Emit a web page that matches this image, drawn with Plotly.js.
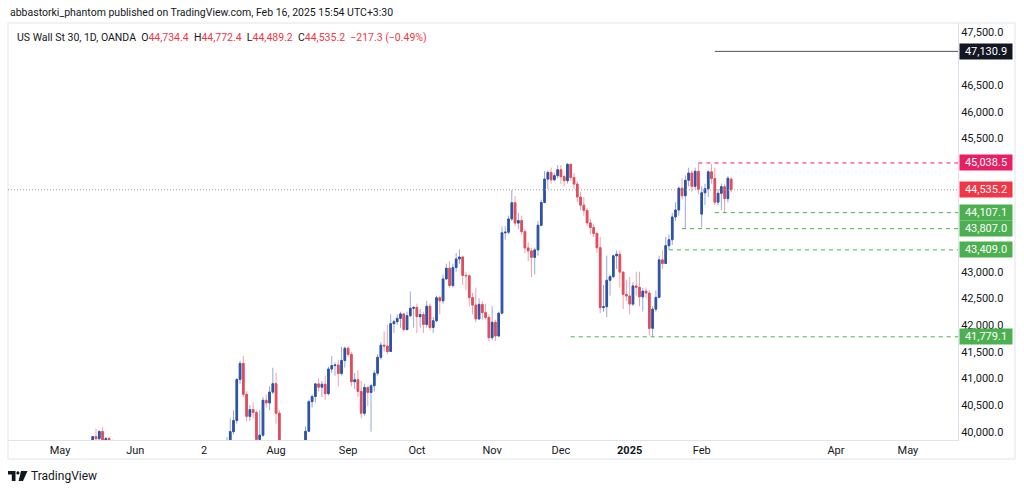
<!DOCTYPE html>
<html>
<head>
<meta charset="utf-8">
<script src="https://cdn.plot.ly/plotly-3.0.1.min.js"></script>
<style>
html,body{margin:0;padding:0;background:#ffffff;}
#chart{width:1024px;height:490px;}
</style>
</head>
<body>
<div id="chart"></div>
<script>
// ---------------- DATA (US Wall St 30, 1D, OANDA) ----------------
const dates = [
  // May 2024
  '2024-05-01','2024-05-02','2024-05-03','2024-05-06','2024-05-07','2024-05-08','2024-05-09','2024-05-10',
  '2024-05-13','2024-05-14','2024-05-15','2024-05-16','2024-05-17','2024-05-20','2024-05-21','2024-05-22',
  '2024-05-23','2024-05-24','2024-05-27','2024-05-28','2024-05-29','2024-05-30','2024-05-31',
  // Jun
  '2024-06-03','2024-06-04','2024-06-05','2024-06-06','2024-06-07','2024-06-10','2024-06-11','2024-06-12',
  '2024-06-13','2024-06-14','2024-06-17','2024-06-18','2024-06-19','2024-06-20','2024-06-21','2024-06-24',
  '2024-06-25','2024-06-26','2024-06-27','2024-06-28',
  // Jul
  '2024-07-01','2024-07-02','2024-07-03','2024-07-04','2024-07-05','2024-07-08','2024-07-09','2024-07-10',
  '2024-07-11','2024-07-12','2024-07-15','2024-07-16','2024-07-17','2024-07-18','2024-07-19','2024-07-22',
  '2024-07-23','2024-07-24','2024-07-25','2024-07-26','2024-07-29','2024-07-30','2024-07-31',
  // Aug
  '2024-08-01','2024-08-02','2024-08-05','2024-08-06','2024-08-07','2024-08-08','2024-08-09','2024-08-12',
  '2024-08-13','2024-08-14','2024-08-15','2024-08-16','2024-08-19','2024-08-20','2024-08-21','2024-08-22',
  '2024-08-23','2024-08-26','2024-08-27','2024-08-28','2024-08-29','2024-08-30',
  // Sep
  '2024-09-02','2024-09-03','2024-09-04','2024-09-05','2024-09-06','2024-09-09','2024-09-10','2024-09-11',
  '2024-09-12','2024-09-13','2024-09-16','2024-09-17','2024-09-18','2024-09-19','2024-09-20','2024-09-23',
  '2024-09-24','2024-09-25','2024-09-26','2024-09-27','2024-09-30',
  // Oct
  '2024-10-01','2024-10-02','2024-10-03','2024-10-04','2024-10-07','2024-10-08','2024-10-09','2024-10-10',
  '2024-10-11','2024-10-14','2024-10-15','2024-10-16','2024-10-17','2024-10-18','2024-10-21','2024-10-22',
  '2024-10-23','2024-10-24','2024-10-25','2024-10-28','2024-10-29','2024-10-30','2024-10-31',
  // Nov
  '2024-11-01','2024-11-04','2024-11-05','2024-11-06','2024-11-07','2024-11-08','2024-11-11','2024-11-12',
  '2024-11-13','2024-11-14','2024-11-15','2024-11-18','2024-11-19','2024-11-20','2024-11-21','2024-11-22',
  '2024-11-25','2024-11-26','2024-11-27','2024-11-28','2024-11-29',
  // Dec
  '2024-12-02','2024-12-03','2024-12-04','2024-12-05','2024-12-06','2024-12-09','2024-12-10','2024-12-11',
  '2024-12-12','2024-12-13','2024-12-16','2024-12-17','2024-12-18','2024-12-19','2024-12-20','2024-12-23',
  '2024-12-24','2024-12-26','2024-12-27','2024-12-30','2024-12-31',
  // Jan 2025
  '2025-01-02','2025-01-03','2025-01-06','2025-01-07','2025-01-08','2025-01-09','2025-01-10','2025-01-13',
  '2025-01-14','2025-01-15','2025-01-16','2025-01-17','2025-01-20','2025-01-21','2025-01-22','2025-01-23',
  '2025-01-24','2025-01-27','2025-01-28','2025-01-29','2025-01-30','2025-01-31',
  // Feb
  '2025-02-03','2025-02-04','2025-02-05','2025-02-06','2025-02-07','2025-02-10','2025-02-11','2025-02-12',
  '2025-02-13','2025-02-14'
];

const open = [
  37820,37903,38226,38676,38852,38884,39056,39388,39513,39432,39558,39908,39869,40004,39807,39872,39671,39065,39070,39100,38853,38442,38112,
  38686,38571,38712,38807,38886,38799,38868,38747,38712,38647,38589,38778,38834,38860,39134,39150,39411,39112,39127,39164,
  39118,39169,39331,39308,39360,39375,39344,39291,39721,39753,40000,40211,40980,41280,40700,40287,40415,40358,39854,39935,40589,40539,40743,
  40900,40347,39737,38703,38997,38763,39446,39497,39357,39765,40008,40563,40659,40896,40834,40890,40712,41175,41240,41250,41091,41335,
  41563,41450,40936,40974,40755,40345,40829,40736,40861,41097,41394,41622,41606,41503,42025,42063,42124,42208,41915,42175,42313,
  42330,42156,42196,42011,42352,41954,42080,42512,42454,42864,43065,42740,43077,43239,43276,42931,42924,42514,42374,42114,42387,42233,42142,
  41763,42052,41794,42222,43729,43740,43989,44293,43911,43958,43751,43445,43390,43269,43408,43870,44297,44736,44860,44722,44800,
  44911,44782,44706,45014,44766,44643,44401,44248,44149,43915,43828,43717,43450,42327,42343,42840,42907,43297,43326,42992,42574,
  42544,42392,42732,42707,42528,42635,42600,41938,42297,42518,43222,43153,43488,43600,44026,44157,44565,44424,44714,44850,44600,44882,
  44080,44480,44556,44873,44747,44303,44470,44594,44369,44734.4
];

const high = [
  38350,38250,38770,38860,38970,39110,39400,39600,39600,39620,39920,40060,40030,40090,39900,39900,39850,39240,39140,39200,38870,38500,38720,
  38800,38800,38860,38950,39070,38900,38880,39100,38760,38700,38800,38900,38900,39300,39250,39500,39420,39200,39250,39470,
  39200,39400,39420,39400,39480,39500,39450,39750,39900,40250,40400,41000,41330,41420,40760,40500,40550,40400,40400,40650,40700,40850,41200,
  41100,40400,39800,39250,39600,39500,39600,39650,39800,40100,40600,40700,40920,41000,40950,41050,41220,41420,41300,41350,41590,41600,
  41600,41500,41100,41150,40950,40900,40850,40900,41150,41450,41680,41880,42000,42200,42100,42200,42250,42220,42250,42630,42350,
  42400,42300,42250,42450,42400,42150,42550,42550,42950,43150,43200,43150,43350,43420,43300,43000,42950,42600,42700,42500,42450,42400,42200,
  42350,42100,42250,43850,43850,44050,44530,44420,44100,44050,43800,43550,43450,43450,43950,44350,44890,44900,44950,44850,45000,
  45000,44820,45030,45020,44850,44700,44500,44400,44200,44000,43900,43750,43650,42750,43300,42950,43320,43400,43400,43000,42850,
  42900,42800,43000,43000,42700,42700,42650,42350,42650,43300,43400,43650,43700,44100,44300,44600,44750,44800,44950,44900,44950,45038.5,
  44600,44650,44900,45018,44950,44550,44650,44650,44790,44772.4
];

const low = [
  37800,37770,38220,38620,38780,38770,38990,39350,39360,39380,39500,39820,39750,39790,39680,39600,38950,38980,39020,38800,38400,38060,38000,
  38300,38450,38550,38780,38700,38600,38500,38650,38400,38300,38500,38700,38800,38800,38950,39100,39050,38950,39050,39100,
  38850,39050,39250,39280,39240,39250,39230,39270,39550,39700,39950,40150,40900,40650,40200,40200,40250,39800,39700,39900,40450,40400,40700,
  40150,39500,38450,38600,38700,38700,39250,39200,39300,39650,39990,40450,40550,40750,40650,40600,40680,41100,41050,40850,41050,41200,
  41400,40850,40800,40650,40250,40300,40480,40000,40750,41050,41350,41500,41450,41500,41850,42000,41950,41880,41900,42150,41950,
  41850,41950,41850,41950,41900,41850,42050,42200,42400,42850,42700,42700,43000,43150,42750,42650,42350,42200,42050,42100,42100,42100,41700,
  41720,41700,41780,42200,43600,43700,43950,43850,43800,43700,43350,43200,42900,42950,43300,43850,44280,44550,44650,44700,44750,
  44650,44600,44650,44700,44550,44300,44150,44050,43850,43700,43650,43350,42220,42250,42150,42550,42880,43050,42700,42300,42450,
  42200,42350,42550,42350,42250,42500,41800,41779.1,42250,42500,43050,43150,43409,43500,43950,44050,44350,43807,44600,44500,44550,44450,
  43830,44250,44400,44650,44250,44250,44150,44107.1,44300,44489.2
];

const close = [
  37903,38226,38676,38852,38884,39056,39388,39513,39432,39558,39908,39869,40004,39807,39872,39671,39065,39070,39100,38853,38442,38112,38686,
  38571,38712,38807,38886,38799,38868,38747,38712,38647,38589,38778,38834,38860,39134,39150,39411,39112,39127,39164,39118,
  39169,39331,39308,39360,39375,39344,39291,39721,39753,40000,40211,40980,41280,40700,40287,40415,40358,39854,39935,40589,40539,40743,40900,
  40347,39737,38703,38997,38763,39446,39497,39357,39765,40008,40563,40659,40896,40834,40890,40712,41175,41240,41250,41091,41335,41563,
  41450,40936,40974,40755,40345,40829,40736,40861,41097,41394,41622,41606,41503,42025,42063,42124,42208,41915,42175,42313,42330,
  42156,42196,42011,42352,41954,42080,42512,42454,42864,43065,42740,43077,43239,43276,42931,42924,42514,42374,42114,42387,42233,42142,41763,
  42052,41794,42222,43729,43740,43989,44293,43911,43958,43751,43445,43390,43269,43408,43870,44297,44736,44860,44722,44800,44911,
  44782,44706,45014,44766,44643,44401,44248,44149,43915,43828,43717,43450,42327,42343,42840,42907,43297,43326,42992,42574,42544,
  42392,42732,42707,42528,42635,42600,41938,42297,42518,43222,43153,43488,43600,44026,44157,44565,44424,44714,44850,44600,44882,44545,
  44480,44556,44873,44747,44303,44470,44594,44369,44752.5,44535.2
];

// Time-axis labels
const tickDates  = ['2024-05-01','2024-06-03','2024-07-02','2024-08-01','2024-09-02','2024-10-01','2024-11-01','2024-12-02','2025-01-02','2025-02-03','2025-04-01','2025-05-01'];
const tickLabels = ['May','Jun','2','Aug','Sep','Oct','Nov','Dec','<b>2025</b>','Feb','Apr','May'];

// Price-axis labels that stay visible (the others sit under the price tags)
const priceTicks = [40000, 40500, 41000, 41500, 42000, 42500, 43000, 45500, 46000, 46500, 47500];

// Horizontal levels drawn on the chart
const levelValues = [47130.9, 45038.5, 44107.1, 43807.0, 43409.0, 41779.1];
const levelStarts = ['2025-02-07','2025-01-31','2025-02-07','2025-01-24','2025-01-20','2024-12-05'];
const lastPrice = 44535.2;

// ---------------- BUILD ----------------
const NOON = ' 12:00';
const xs = dates.map(d => d + NOON);
const bodyTop = open.map((o, i) => Math.max(o, close[i]));
const bodyBot = open.map((o, i) => Math.min(o, close[i]));

const FONT = 'Roboto, "Noto Sans", "DejaVu Sans", sans-serif';
const TXT = '#131722';
const RED = '#f23645';

const upBody = '#2d52a8', dnBody = '#e04d5c';
const upWick = '#98aad3', dnWick = '#efa2aa';

const wickTrace = {
  type: 'candlestick', x: xs, open: open, high: high, low: low, close: close,
  increasing: {line: {color: upWick, width: 1}, fillcolor: upWick},
  decreasing: {line: {color: dnWick, width: 1}, fillcolor: dnWick},
  hoverinfo: 'skip', showlegend: false
};
const bodyTrace = {
  type: 'candlestick', x: xs, open: open, high: bodyTop, low: bodyBot, close: close,
  increasing: {line: {color: upBody, width: 1}, fillcolor: upBody},
  decreasing: {line: {color: dnBody, width: 1}, fillcolor: dnBody},
  hoverinfo: 'skip', showlegend: false
};

// plot frame in pixels: left 8, right 958, top 23, bottom 440
const PL = 8, PR = 958, PT = 23, PB = 440;
const px = v => (v - PL) / (PR - PL);
const py = v => (PB - v) / (PB - PT);

const fmt = v => v.toLocaleString('en-US', {minimumFractionDigits: 1, maximumFractionDigits: 1});
const n = close.length - 1;
const chg = close[n] - close[n - 1];
const pct = chg / close[n - 1] * 100;
const minus = s => s.replace('-', '\u2212');
const sp = '&nbsp;&nbsp;';
const red = t => '<span style="color:' + RED + '">' + t + '</span>';
const legendText = 'US Wall St 30, 1D, OANDA' + sp +
  'O' + red(fmt(open[n])) + sp + 'H' + red(fmt(high[n])) + sp +
  'L' + red(fmt(low[n])) + sp + 'C' + red(fmt(close[n])) + sp +
  red(minus(chg.toFixed(1)) + ' (' + minus(pct.toFixed(2)) + '%)');

const shapes = [];
// frame
shapes.push({type: 'rect', xref: 'paper', yref: 'paper', x0: px(8), x1: px(1015), y0: py(459), y1: py(23),
  line: {color: '#e0e3eb', width: 1}, fillcolor: 'rgba(0,0,0,0)', layer: 'below'});
// last price dotted line
shapes.push({type: 'line', xref: 'paper', yref: 'y', x0: 0, x1: 1, y0: lastPrice, y1: lastPrice,
  line: {color: '#9598a1', width: 1, dash: '1px,2px'}});
// level lines
const levelStyles = [
  {color: '#50535e', dash: 'solid'},
  {color: '#e91e63', dash: '4px,4px'},
  {color: '#4caf50', dash: '4px,4px'},
  {color: '#4caf50', dash: '4px,4px'},
  {color: '#4caf50', dash: '4px,4px'},
  {color: '#4caf50', dash: '4px,4px'}
];
levelValues.forEach((v, i) => {
  shapes.push({type: 'line', xref: 'x', yref: 'y', x0: levelStarts[i] + NOON, x1: '2025-07-31', y0: v, y1: v,
    line: {color: levelStyles[i].color, width: 1, dash: levelStyles[i].dash}});
});
// TradingView logo
const P = (x, y) => px(x) + ',' + py(y);
shapes.push({type: 'path', xref: 'paper', yref: 'paper',
  path: 'M' + P(8, 471) + 'L' + P(15.5, 471) + 'L' + P(15.5, 481) + 'L' + P(11.8, 481) + 'L' + P(11.8, 474.6) + 'L' + P(8, 474.6) + 'Z',
  fillcolor: TXT, line: {width: 0}});
shapes.push({type: 'circle', xref: 'paper', yref: 'paper', x0: px(16.3), x1: px(19.5), y0: py(474.6), y1: py(471.2),
  fillcolor: TXT, line: {width: 0}});
shapes.push({type: 'path', xref: 'paper', yref: 'paper',
  path: 'M' + P(21, 471) + 'L' + P(27.5, 471) + 'L' + P(23, 481) + 'L' + P(18.6, 481) + 'Z',
  fillcolor: TXT, line: {width: 0}});

// price labels on the axis
const labelVals = [47130.9, 45038.5, 44535.2, 44107.1, 43807.0, 43409.0, 41779.1];
const labelBg = ['#131722', '#e91e63', '#f23645', '#4caf50', '#4caf50', '#4caf50', '#4caf50'];
const annotations = labelVals.map((v, i) => ({
  xref: 'paper', yref: 'y', x: 1, y: v, xanchor: 'left', yanchor: 'middle', xshift: 1,
  text: fmt(v), showarrow: false, bgcolor: labelBg[i], borderpad: 2, width: 48, height: 11,
  font: {family: FONT, size: 11, color: '#ffffff'}
}));
annotations.push({xref: 'paper', yref: 'paper', x: px(8), y: py(13), xanchor: 'left', yanchor: 'middle',
  text: 'abbastorki_phantom published on TradingView.com, Feb 16, 2025 15:54 UTC+3:30', showarrow: false,
  font: {family: FONT, size: 10.5, color: TXT}});
annotations.push({xref: 'paper', yref: 'paper', x: px(15), y: py(37), xanchor: 'left', yanchor: 'middle',
  text: legendText, showarrow: false, font: {family: FONT, size: 10.5, color: TXT}});
annotations.push({xref: 'paper', yref: 'paper', x: px(29), y: py(476), xanchor: 'left', yanchor: 'middle',
  text: 'TradingView', showarrow: false, font: {family: FONT, size: 12, color: TXT}});

const layout = {
  width: 1024, height: 490,
  margin: {l: PL, r: 1024 - PR, t: PT, b: 490 - PB, pad: 0},
  paper_bgcolor: '#ffffff', plot_bgcolor: '#ffffff',
  showlegend: false, dragmode: false,
  font: {family: FONT, size: 11, color: TXT},
  xaxis: {
    type: 'date',
    range: ['2024-04-09 14:53', '2025-05-22 18:43'],
    rangebreaks: [{bounds: ['sat', 'mon']}, {values: ['2024-12-25', '2025-01-01']}],
    tickmode: 'array', tickvals: tickDates.map(d => d + NOON), ticktext: tickLabels,
    showgrid: false, zeroline: false, showline: true, linecolor: '#e0e3eb', ticks: '',
    rangeslider: {visible: false}, fixedrange: true,
    tickfont: {family: FONT, size: 11, color: TXT}
  },
  yaxis: {
    side: 'right', range: [39844, 47663],
    tickmode: 'array', tickvals: priceTicks, tickformat: ',.1f',
    showgrid: false, zeroline: false, showline: true, linecolor: '#e0e3eb', ticks: '',
    fixedrange: true, tickfont: {family: FONT, size: 11, color: TXT}
  },
  shapes: shapes,
  annotations: annotations
};

Plotly.newPlot('chart', [wickTrace, bodyTrace], layout, {displayModeBar: false, staticPlot: true});
</script>
</body>
</html>
